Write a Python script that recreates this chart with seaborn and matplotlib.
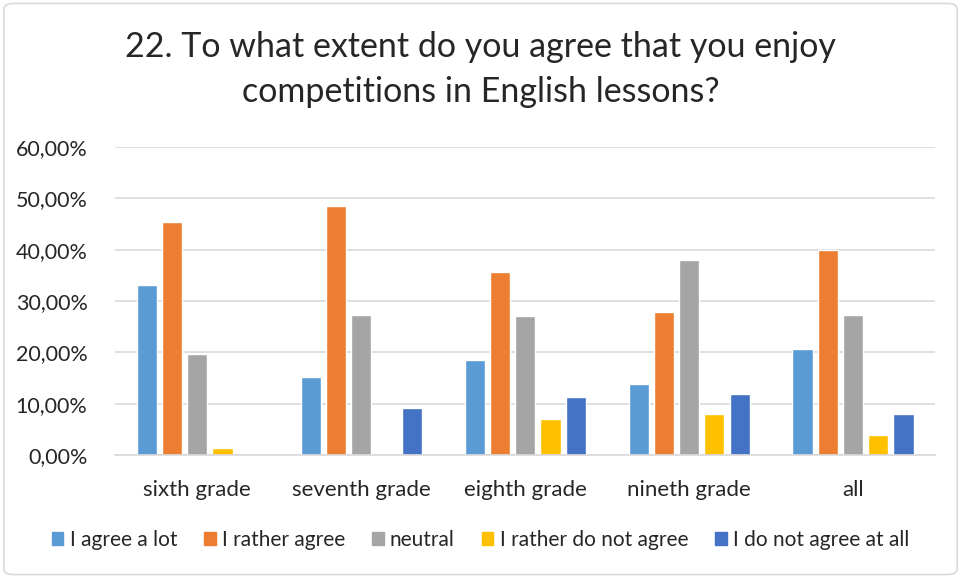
import matplotlib
matplotlib.use("Agg")
import matplotlib.pyplot as plt
import seaborn as sns
import pandas as pd
from matplotlib.ticker import FuncFormatter, MultipleLocator
from matplotlib.patches import FancyBboxPatch

categories = ["sixth grade", "seventh grade", "eighth grade", "nineth grade", "all"]
series = ["I agree a lot", "I rather agree", "neutral", "I rather do not agree", "I do not agree at all"]
agree_lot = [33.2, 15.1, 18.5, 13.9, 20.6]
rather_agree = [45.3, 48.5, 35.7, 27.9, 40.0]
neutral = [19.6, 27.2, 27.0, 37.9, 27.3]
rather_not = [1.4, 0.0, 7.0, 7.9, 3.8]
not_at_all = [0.0, 9.1, 11.3, 11.9, 7.9]
colors = ["#5B9BD5", "#ED7D31", "#A5A5A5", "#FFC000", "#4472C4"]
title = "22. To what extent do you agree that you enjoy\ncompetitions in English lessons?"

values = [agree_lot, rather_agree, neutral, rather_not, not_at_all]
rows = []
for s, vals in zip(series, values):
    for c, v in zip(categories, vals):
        rows.append({"category": c, "series": s, "value": v})
df = pd.DataFrame(rows)

sns.set_style("white")
plt.rcParams["font.family"] = ["Lato", "DejaVu Sans"]

fig = plt.figure(figsize=(9.61, 5.78), dpi=100)
ax = fig.add_axes([0.12, 0.2128, 0.853, 0.533])

sns.barplot(data=df, x="category", y="value", hue="series", order=categories,
            hue_order=series, palette=colors, width=0.77, gap=0.2,
            saturation=1, ax=ax, legend=True)

ax.set_ylim(0, 60)
ax.set_xlim(-0.5, 4.5)
ax.yaxis.set_major_locator(MultipleLocator(10))
ax.yaxis.set_major_formatter(FuncFormatter(lambda v, p: f"{v:.2f}".replace(".", ",") + "%"))
ax.grid(axis="y", color="#d9d9d9", linewidth=1.2)
ax.set_axisbelow(True)
for side in ["top", "right", "left"]:
    ax.spines[side].set_visible(False)
ax.spines["bottom"].set_color("#d9d9d9")
ax.spines["bottom"].set_linewidth(1.2)
ax.tick_params(axis="both", length=0, colors="#262626")
ax.tick_params(axis="x", pad=18, labelsize=16)
ax.tick_params(axis="y", pad=20, labelsize=15.5)
ax.set_xlabel("")
ax.set_ylabel("")

ax.legend_.remove()
handles = [plt.Rectangle((0, 0), 1, 1, color=c) for c in colors]
fig.legend(handles, series, loc="center", bbox_to_anchor=(0.5, 0.066), ncol=5,
           frameon=False, fontsize=15, handlelength=0.55, handleheight=0.55,
           handletextpad=0.3, columnspacing=1.3, labelcolor="#262626")

fig.text(0.5, 0.88, title, ha="center", va="center", fontsize=24.5, color="#262626",
         linespacing=1.5)

border = FancyBboxPatch((0.004, 0.006), 0.992, 0.988, boxstyle="round,pad=0,rounding_size=0.01",
                        transform=fig.transFigure, fill=False, edgecolor="#d9d9d9", linewidth=1.2)
fig.patches.append(border)

fig.savefig("out.png", dpi=100)
